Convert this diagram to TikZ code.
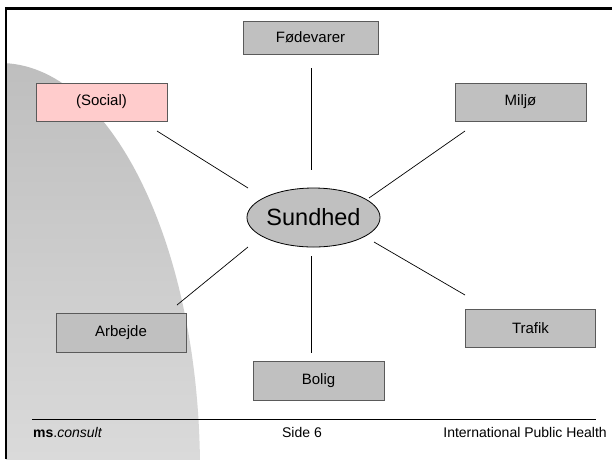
\documentclass[tikz,border=0pt]{standalone}
\usepackage{fontspec}
\setmainfont{Liberation Sans}
\usetikzlibrary{shapes.geometric}
\definecolor{boxgray}{HTML}{C0C0C0}
\definecolor{boxedge}{HTML}{5A5A5A}
\definecolor{pinkfill}{HTML}{FFCCCC}
\definecolor{bgtop}{HTML}{BEBEBE}
\definecolor{bgbot}{HTML}{DADADA}
\tikzset{
  catbox/.style={draw=boxedge, fill=boxgray, line width=0.8pt, minimum width=131pt,
    minimum height=38pt, inner sep=0pt, font=\fontsize{15}{18}\selectfont},
  spoke/.style={draw=black, line width=0.7pt},
  foot/.style={font=\fontsize{14}{16}\selectfont, inner sep=0pt},
}
\begin{document}
\begin{tikzpicture}[x=1pt,y=-1pt]
\useasboundingbox (0,0) rectangle (612,459);
\fill[white] (0,0) rectangle (612,459);
% background quarter shape
\begin{scope}
  \clip (6,8.5) rectangle (612,459);
  \clip (0,470) ellipse [x radius=200pt, y radius=407pt];
  \shade[top color=bgtop, bottom color=bgbot] (0,60) rectangle (215,459);
\end{scope}
% frame
\draw[line width=2.6pt] (6,459) -- (6,8.5) -- (612,8.5);
% nodes
\node[catbox, minimum width=135pt, minimum height=33pt] (food) at (310.5,37.5) {Fødevarer};
\node[catbox, fill=pinkfill] (social) at (101.5,102) {(Social)};
\node[catbox] (milj) at (520.5,102) {Miljø};
\node[catbox, minimum width=130pt, minimum height=39pt] (arb) at (121,332.5) {Arbejde};
\node[catbox, minimum width=130pt] (traf) at (530.5,328.5) {Trafik};
\node[catbox, minimum height=39pt] (bolig) at (318.5,381) {Bolig};
\node[ellipse, draw=black, fill=boxgray, line width=0.8pt, minimum width=121pt,
  minimum height=59pt, inner sep=0pt, font=\fontsize{23.5}{26}\selectfont] (sund) at (313.5,217.5) {Sundhed};
% spoke end points
\coordinate (fa) at (311,68);  \coordinate (fb) at (311,170);
\coordinate (ba) at (311,256); \coordinate (bb) at (311,353);
\coordinate (sa) at (157,131); \coordinate (sb) at (248,188);
\coordinate (ma) at (465,131); \coordinate (mb) at (369,198);
\coordinate (aa) at (177,305); \coordinate (ab) at (248,247);
\coordinate (ta) at (465,295); \coordinate (tb) at (374,242);
\draw[spoke] (fa) -- (fb);
\draw[spoke] (ba) -- (bb);
\draw[spoke] (sa) -- (sb);
\draw[spoke] (ma) -- (mb);
\draw[spoke] (aa) -- (ab);
\draw[spoke] (ta) -- (tb);
% footer
\draw[line width=1pt] (32,419) -- (596,419);
\node[foot, anchor=base west] (ms) at (33,437) {\textbf{ms}.\textit{consult}};
\node[foot, anchor=base] (side) at (302,437) {Side 6};
\node[foot, anchor=base east] (iph) at (607,437) {International Public Health};
\end{tikzpicture}
\end{document}
